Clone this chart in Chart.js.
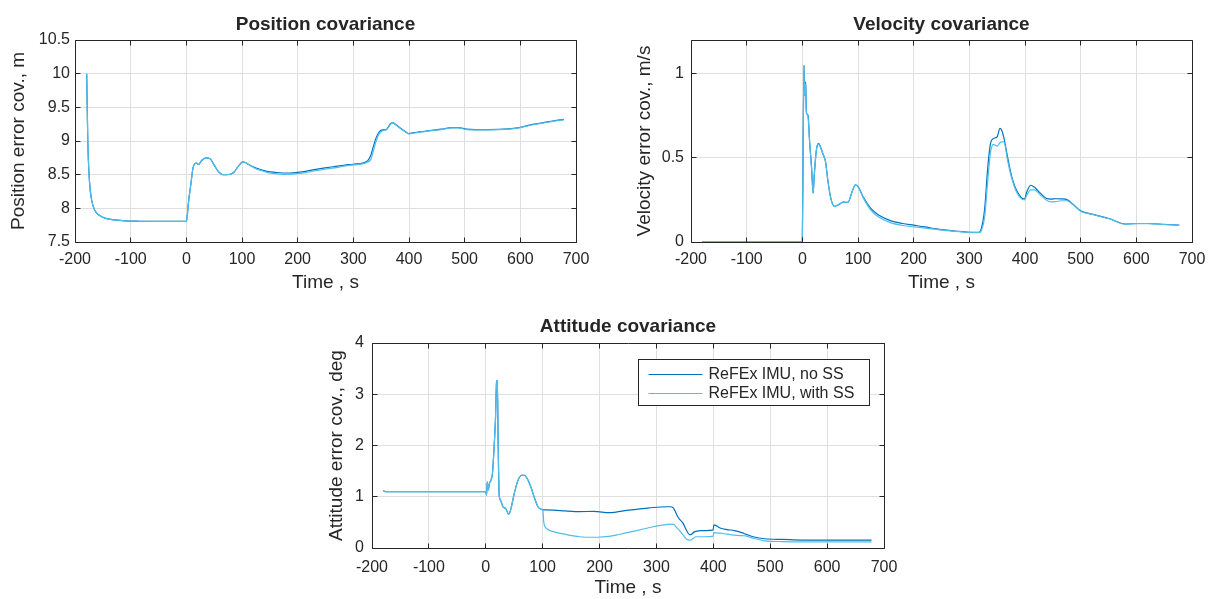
<!DOCTYPE html>
<html>
<head>
<meta charset="utf-8">
<title>Covariance</title>
<script src="https://cdn.jsdelivr.net/npm/chart.js@4.4.1/dist/chart.umd.min.js"></script>
<style>
html, body { margin: 0; padding: 0; background: #fff; overflow: hidden; }
canvas { position: absolute; }
</style>
</head>
<body>
<canvas id="posChart" width="600" height="300" style="left:0;top:0"></canvas>
<canvas id="velChart" width="604" height="300" style="left:610px;top:0"></canvas>
<canvas id="attChart" width="612" height="300" style="left:300px;top:300px"></canvas>
<script>
'use strict';

const seriesLabels = ['ReFEx IMU, no SS', 'ReFEx IMU, with SS'];
const seriesColors = ['#0072BD', '#4DBEEE'];

const timeTicks = [-200, -100, 0, 100, 200, 300, 400, 500, 600, 700];
const posTicks = [7.5, 8, 8.5, 9, 9.5, 10, 10.5];
const velTicks = [0, 0.5, 1];
const attTicks = [0, 1, 2, 3, 4];

// position covariance, m
const posTime = [-179, -177, -174, -170, -165, -157, -145, -129, -110, -90, -60, -30, -1, 0.5, 4, 8, 12, 15, 18.5, 22,
    27.5, 35, 42, 51, 58, 65, 73, 80, 86, 92, 97, 101, 106, 112, 122, 132, 145, 159, 173, 187,
    200, 214, 230, 249, 266, 283, 300, 318, 326, 331, 336, 341, 346, 352, 359, 363, 367, 371, 377, 383,
    392, 400, 407, 414, 428, 441, 458, 476, 489, 503, 520, 544, 579, 595, 606, 625, 640, 660, 678];
const posNoSS = [10.0, 9.0, 8.4, 8.12, 7.98, 7.9, 7.85, 7.83, 7.815, 7.81, 7.805, 7.805, 7.805, 7.82, 8.1, 8.35, 8.6, 8.66, 8.67, 8.65,
    8.71, 8.75, 8.74, 8.63, 8.54, 8.5, 8.5, 8.51, 8.54, 8.61, 8.66, 8.69, 8.68, 8.65, 8.61, 8.58, 8.55, 8.535, 8.525, 8.525,
    8.535, 8.55, 8.575, 8.6, 8.62, 8.64, 8.655, 8.675, 8.71, 8.78, 8.92, 9.05, 9.13, 9.165, 9.17, 9.21, 9.26, 9.27, 9.24, 9.2,
    9.15, 9.11, 9.12, 9.13, 9.145, 9.16, 9.175, 9.2, 9.2, 9.175, 9.17, 9.17, 9.18, 9.195, 9.215, 9.25, 9.27, 9.3, 9.32];
const posWithSS = [10.0, 9.0, 8.4, 8.12, 7.98, 7.9, 7.85, 7.83, 7.815, 7.81, 7.805, 7.805, 7.805, 7.82, 8.1, 8.35, 8.6, 8.66, 8.67, 8.65,
    8.71, 8.75, 8.74, 8.63, 8.54, 8.5, 8.5, 8.51, 8.54, 8.61, 8.66, 8.69, 8.68, 8.65, 8.6, 8.565, 8.535, 8.515, 8.505, 8.505,
    8.515, 8.53, 8.555, 8.58, 8.6, 8.625, 8.645, 8.665, 8.69, 8.72, 8.85, 9.0, 9.1, 9.15, 9.165, 9.2, 9.25, 9.265, 9.235, 9.195,
    9.145, 9.105, 9.115, 9.125, 9.14, 9.155, 9.17, 9.195, 9.195, 9.17, 9.165, 9.165, 9.175, 9.19, 9.21, 9.245, 9.265, 9.295, 9.315];

// velocity covariance, m/s
const velTime = [-180, -100, -1, 0, 1.5, 3, 4.2, 5.2, 6.2, 7.2, 8.3, 10.4, 13, 16.6, 19.4, 21.5, 25, 27.7, 29.8, 33,
    37.4, 41.5, 45.7, 50.5, 57.4, 64.4, 73.4, 81.7, 90, 95.5, 101, 109, 123, 137, 158, 180, 200, 220, 241, 260,
    275, 300, 317, 322, 327.6, 333, 338, 343, 350, 355, 358, 362, 369, 376, 386, 399, 403.5, 410.4, 417, 427.5,
    438, 447, 455, 466, 476, 486, 500, 524, 552, 580, 601, 621, 649, 677];
const velNoSS = [0.003, 0.003, 0.003, 0.003, 0.6, 1.05, 0.87, 0.95, 0.93, 0.78, 0.76, 0.75, 0.6, 0.44, 0.29, 0.4, 0.54, 0.58, 0.585, 0.56,
    0.52, 0.48, 0.37, 0.27, 0.212, 0.22, 0.237, 0.235, 0.305, 0.34, 0.325, 0.27, 0.2, 0.16, 0.127, 0.11, 0.1, 0.09, 0.078, 0.07,
    0.065, 0.058, 0.057, 0.085, 0.2, 0.44, 0.585, 0.614, 0.625, 0.675, 0.665, 0.62, 0.5, 0.39, 0.3, 0.255, 0.3, 0.337, 0.325, 0.29,
    0.26, 0.255, 0.257, 0.256, 0.25, 0.225, 0.185, 0.163, 0.138, 0.107, 0.11, 0.11, 0.105, 0.1];
const velWithSS = [0.003, 0.003, 0.003, 0.003, 0.6, 1.05, 0.87, 0.94, 0.92, 0.77, 0.76, 0.74, 0.6, 0.44, 0.29, 0.4, 0.54, 0.58, 0.58, 0.56,
    0.52, 0.48, 0.37, 0.27, 0.212, 0.22, 0.237, 0.235, 0.305, 0.34, 0.322, 0.265, 0.19, 0.148, 0.115, 0.098, 0.09, 0.083, 0.075, 0.068,
    0.063, 0.057, 0.056, 0.07, 0.15, 0.36, 0.53, 0.58, 0.57, 0.59, 0.595, 0.595, 0.48, 0.38, 0.29, 0.25, 0.28, 0.31, 0.31, 0.28,
    0.25, 0.238, 0.24, 0.245, 0.245, 0.222, 0.183, 0.162, 0.137, 0.106, 0.109, 0.109, 0.104, 0.099];

// attitude covariance, deg
const attTime = [-180, -177, -150, -100, -50, -1, 0.5, 1.3, 2.6, 4.5, 6.5, 9, 11.7, 14.3, 17, 19, 20.3, 21.6, 23.6, 26,
    30.5, 35, 40.3, 43.6, 50, 56.6, 63, 68, 72.8, 79.3, 85.8, 92, 98.8, 100.5, 102, 107, 119, 138, 157, 164,
    190, 197, 216, 229, 248, 261, 281, 294, 307, 320, 324, 330, 337, 340, 347, 353, 358, 360, 366, 369,
    379, 386, 398.5, 399.5, 401, 412, 424, 437, 450, 457, 470, 490, 522, 555, 620, 678];
const attNoSS = [1.12, 1.1, 1.1, 1.1, 1.1, 1.1, 1.1, 1.03, 1.29, 1.13, 1.26, 1.32, 1.45, 1.9, 2.5, 3.24, 3.27, 2.17, 1.03, 0.93,
    0.8, 0.77, 0.66, 0.74, 1.06, 1.32, 1.42, 1.42, 1.355, 1.19, 0.97, 0.8, 0.75, 0.745, 0.745, 0.745, 0.74, 0.725, 0.71, 0.71,
    0.715, 0.71, 0.69, 0.7, 0.735, 0.75, 0.775, 0.79, 0.8, 0.805, 0.805, 0.78, 0.62, 0.57, 0.48, 0.34, 0.26, 0.26, 0.31, 0.325,
    0.34, 0.34, 0.35, 0.35, 0.45, 0.39, 0.36, 0.34, 0.3, 0.27, 0.22, 0.18, 0.168, 0.155, 0.155, 0.155];
const attWithSS = [1.12, 1.1, 1.1, 1.1, 1.1, 1.1, 1.1, 1.03, 1.29, 1.13, 1.26, 1.32, 1.45, 1.9, 2.5, 3.24, 3.27, 2.17, 1.03, 0.93,
    0.8, 0.77, 0.66, 0.74, 1.06, 1.32, 1.42, 1.42, 1.355, 1.19, 0.97, 0.8, 0.75, 0.72, 0.5, 0.38, 0.32, 0.27, 0.23, 0.22,
    0.21, 0.21, 0.225, 0.25, 0.3, 0.33, 0.38, 0.415, 0.44, 0.46, 0.465, 0.46, 0.38, 0.35, 0.25, 0.17, 0.155, 0.155, 0.2, 0.22,
    0.22, 0.22, 0.225, 0.225, 0.3, 0.29, 0.27, 0.25, 0.24, 0.235, 0.19, 0.14, 0.125, 0.12, 0.12, 0.12];

const inkColor = '#262626';
const gridColor = '#dfdfdf';
const fontFamily = '"Liberation Sans", Arial, sans-serif';

function crisp(p) {
    return Math.round(p - 0.5) + 0.5;
}

// full frame around the axes with inward tick marks
const framePlugin = {
    id: 'frame',
    afterDatasetsDraw(chart) {
        const { ctx, chartArea: a, scales: { x, y } } = chart;
        const len = 5;
        const L = crisp(a.left), R = crisp(a.right), T = crisp(a.top), B = crisp(a.bottom);
        ctx.save();
        ctx.strokeStyle = inkColor;
        ctx.lineWidth = 1;
        ctx.beginPath();
        x.ticks.forEach(t => {
            const px = crisp(x.getPixelForValue(t.value));
            ctx.moveTo(px, B); ctx.lineTo(px, B - len);
            ctx.moveTo(px, T); ctx.lineTo(px, T + len);
        });
        y.ticks.forEach(t => {
            const py = crisp(y.getPixelForValue(t.value));
            ctx.moveTo(L, py); ctx.lineTo(L + len, py);
            ctx.moveTo(R, py); ctx.lineTo(R - len, py);
        });
        ctx.rect(L, T, R - L, B - T);
        ctx.stroke();
        ctx.restore();
    }
};

// boxed legend in the upper right of the axes
const boxLegendPlugin = {
    id: 'boxLegend',
    afterDraw(chart, args, opts) {
        if (!opts.display) return;
        const { ctx, chartArea: a } = chart;
        const sets = chart.data.datasets;
        ctx.save();
        ctx.font = '16px ' + fontFamily;
        const textW = Math.max(...sets.map(d => ctx.measureText(d.label).width));
        const w = Math.round(10 + 54 + 6 + textW + 15);
        const h = 46;
        const right = crisp(a.right - 15);
        const top = crisp(a.top + 16);
        const left = right - w;
        ctx.fillStyle = '#fff';
        ctx.fillRect(left, top, w, h);
        ctx.strokeStyle = inkColor;
        ctx.lineWidth = 1;
        ctx.strokeRect(left, top, w, h);
        sets.forEach((d, i) => {
            const ry = Math.round(top + 14 + i * 19) + 0.5;
            ctx.strokeStyle = d.borderColor;
            ctx.lineWidth = 1.2;
            ctx.beginPath();
            ctx.moveTo(left + 10, ry);
            ctx.lineTo(left + 64, ry);
            ctx.stroke();
            ctx.fillStyle = inkColor;
            ctx.textBaseline = 'middle';
            ctx.textAlign = 'left';
            ctx.fillText(d.label, left + 70, ry);
        });
        ctx.restore();
    }
};

function makeChart(id, o) {
    const tickFont = { family: fontFamily, size: 16 };
    const labelFont = { family: fontFamily, size: 19 };
    return new Chart(document.getElementById(id), {
        type: 'line',
        data: {
            datasets: o.series.map((vals, i) => ({
                label: seriesLabels[i],
                data: o.time.map((t, k) => ({ x: t, y: vals[k] })),
                borderColor: seriesColors[i],
                borderWidth: 1.2,
                pointRadius: 0,
                cubicInterpolationMode: 'monotone',
                order: 1 - i
            }))
        },
        options: {
            responsive: false,
            animation: false,
            devicePixelRatio: 1,
            events: [],
            layout: { padding: o.pad },
            plugins: {
                legend: { display: false },
                tooltip: { enabled: false },
                title: {
                    display: true,
                    fullSize: false,
                    text: o.title,
                    color: inkColor,
                    font: { family: fontFamily, size: 19, weight: 'bold' },
                    padding: o.titlePad
                },
                boxLegend: { display: !!o.legend }
            },
            scales: {
                x: {
                    type: 'linear',
                    min: -200,
                    max: 700,
                    afterBuildTicks: s => { s.ticks = timeTicks.map(v => ({ value: v })); },
                    afterFit: s => { s.height = o.xHeight; },
                    grid: { color: gridColor, drawTicks: false },
                    border: { display: false },
                    ticks: {
                        color: inkColor, font: tickFont, padding: o.xTickPad,
                        maxRotation: 0, autoSkip: false, callback: v => String(v)
                    },
                    title: {
                        display: true, text: 'Time , s', color: inkColor, font: labelFont,
                        padding: { top: 0, bottom: o.xTitleBottom }
                    }
                },
                y: {
                    type: 'linear',
                    min: o.yMin,
                    max: o.yMax,
                    afterBuildTicks: s => { s.ticks = o.yTicks.map(v => ({ value: v })); },
                    afterFit: s => { s.width = o.yWidth; },
                    grid: { color: gridColor, drawTicks: false },
                    border: { display: false },
                    ticks: {
                        color: inkColor, font: tickFont, padding: o.yTickPad,
                        autoSkip: false, callback: v => String(v)
                    },
                    title: {
                        display: true, text: o.yLabel, color: inkColor, font: labelFont,
                        padding: { top: o.yTitlePad, bottom: 0 }
                    }
                }
            }
        },
        plugins: [framePlugin, boxLegendPlugin]
    });
}

makeChart('posChart', {
    title: 'Position covariance',
    yLabel: 'Position error cov., m',
    time: posTime,
    series: [posNoSS, posWithSS],
    yTicks: posTicks, yMin: 7.5, yMax: 10.5,
    pad: { left: 0, right: 24, top: 0, bottom: 3.6 },
    titlePad: { top: 13.1, bottom: 4.1 },
    yWidth: 75, yTickPad: 5, yTitlePad: 7.3,
    xHeight: 54.4, xTickPad: 8, xTitleBottom: 2
});

makeChart('velChart', {
    title: 'Velocity covariance',
    yLabel: 'Velocity error cov., m/s',
    time: velTime,
    series: [velNoSS, velWithSS],
    yTicks: velTicks, yMin: 0, yMax: 1.2,
    pad: { left: 0, right: 22, top: 0, bottom: 3.6 },
    titlePad: { top: 13.1, bottom: 4.1 },
    yWidth: 81, yTickPad: 7, yTitlePad: 23.6,
    xHeight: 54.4, xTickPad: 8, xTitleBottom: 2
});

makeChart('attChart', {
    title: 'Attitude covariance',
    yLabel: 'Attitude error cov., deg',
    time: attTime,
    series: [attNoSS, attWithSS],
    yTicks: attTicks, yMin: 0, yMax: 4,
    pad: { left: 0, right: 28, top: 0, bottom: 0.6 },
    titlePad: { top: 14.9, bottom: 5.3 },
    yWidth: 72, yTickPad: 8, yTitlePad: 25.3,
    xHeight: 51.4, xTickPad: 10, xTitleBottom: 0,
    legend: true
});
</script>
</body>
</html>
